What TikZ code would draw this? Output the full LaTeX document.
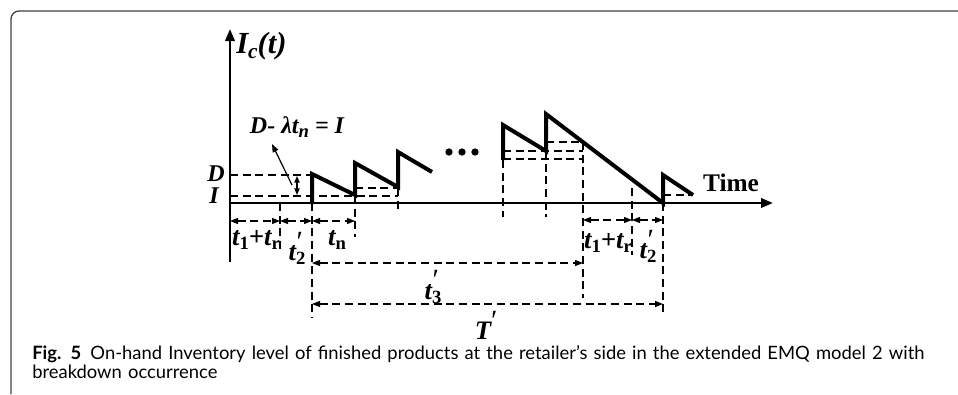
\documentclass[tikz,border=0pt]{standalone}
\usepackage{fontspec}
\setmainfont{Liberation Serif}
\newfontfamily\capfont{Lato}
\usetikzlibrary{arrows.meta}
\newcommand\sbs[1]{\raisebox{-0.32ex}{\fontsize{14}{14}\selectfont\upshape #1}}
\newcommand\sbi[1]{\raisebox{-0.32ex}{\fontsize{14}{14}\selectfont #1}}
\newcommand\prmark{\raisebox{0.75ex}{\fontsize{22}{22}\selectfont\mdseries\upshape\char"2032}}
\newcommand\prm[1]{\rlap{\kern0.5pt\prmark}\sbs{#1}}
\begin{document}
\begin{tikzpicture}[x=0.75pt,y=-0.75pt,
  axis/.style={line width=1.9pt,-{Triangle[length=9pt,width=7pt]}},
  saw/.style={line width=3pt,line join=miter,line cap=butt},
  guide/.style={line width=0.9pt,dash pattern=on 6pt off 3.5pt},
  dim/.style={guide,{Triangle[length=6pt,width=4.5pt]}-{Triangle[length=6pt,width=4.5pt]}},
  solidarrow/.style={line width=0.9pt,-{Triangle[length=6pt,width=4.5pt]}},
  lbl/.style={font=\fontsize{18}{20}\selectfont\bfseries\itshape, inner sep=0pt},
  tlbl/.style={font=\fontsize{20}{22}\selectfont\bfseries\itshape, inner sep=0pt},
  dot/.style={circle,fill=black,inner sep=0pt,minimum size=5.5pt}]
\useasboundingbox (0,0) rectangle (958,394);
% frame
\draw[line width=1pt,black!75,rounded corners=6pt] (11,394) -- (11,11) -- (958,11);
% coordinates
\coordinate (O) at (230,203);
\coordinate (ybot) at (230,262);
\coordinate (ytop) at (230,29);
\coordinate (xend) at (773,203);
% axes
\draw[axis] (ybot) -- (ytop);
\draw[axis] (O) -- (xend);
% guide lines (left)
\draw[guide] (230,175) -- (312,175);
\draw[guide] (230,196) -- (398,196);
\draw[guide] (355,188) -- (398,188);
\draw[guide] (280,203) -- (280,250);
\draw[guide] (312,203) -- (312,318);
\draw[guide] (355,196) -- (355,237);
\draw[guide] (398,188) -- (398,212);
% guide lines (right)
\draw[guide] (503,159) -- (583,159);
\draw[guide] (503,151) -- (583,151);
\draw[guide] (546,142) -- (583,142);
\draw[guide] (663,195) -- (693,195);
\draw[guide] (503,160) -- (503,217);
\draw[guide] (546,151) -- (546,217);
\draw[guide] (583,142) -- (583,298);
\draw[guide] (632,188) -- (632,255);
\draw[guide] (663,203) -- (663,313);
% sawtooth
\draw[saw] (312,204) -- (312,174) -- (355,195) -- (355,163) -- (398,187) -- (398,152) -- (432,172);
\draw[saw] (503,160) -- (503,125) -- (546,151) -- (546,114) -- (663,203) -- (663,175) -- (693,195);
% dots
\node[dot] (d1) at (449,152) {};
\node[dot] (d2) at (462,152) {};
\node[dot] (d3) at (475,152) {};
% dimension arrows
\draw[dim] (230,221) -- (280,221);
\draw[dim] (280,221) -- (312,221);
\draw[dim] (312,221) -- (355,221);
\draw[dim] (583,220) -- (632,220);
\draw[dim] (632,220) -- (663,220);
\draw[dim] (312,263) -- (583,263);
\draw[dim] (312,304) -- (663,304);
% small D-I arrow and pointer
\draw[line width=0.9pt,{Triangle[length=5pt,width=4pt]}-{Triangle[length=5pt,width=4pt]}] (297,176) -- (297,195);
\node[lbl] (eq) at (297,127) {D- λt\sbi{n} = I};
\coordinate (pstart) at (292,185);
\draw[solidarrow] (pstart) -- (272,144);
% labels
\node[inner sep=0pt,font=\fontsize{23}{26}\selectfont\bfseries\itshape,anchor=west] (Ic) at (236,46) {I\raisebox{-0.35ex}{\fontsize{16}{16}\selectfont c}(t)};
\node[lbl] (Dl) at (216,174) {D};
\node[lbl] (Il) at (214,196) {I};
\node[inner sep=0pt,font=\fontsize{19}{22}\selectfont\bfseries] (time) at (731,183) {Time};
\node[tlbl] (a1) at (256,240) {t\sbs{1}+t\sbs{r}};
\node[tlbl] (a2) at (297,248) {t\prm{2}};
\node[tlbl] (a3) at (337,240) {t\sbs{n}};
\node[tlbl] (a4) at (433,287) {t\prm{3}};
\node[tlbl] (a5) at (483,325) {T\rlap{\prmark}};
\node[tlbl] (b1) at (608,243) {t\sbs{1}+t\sbs{r}};
\node[tlbl] (b2) at (648,246) {t\prm{2}};
% caption
\node[anchor=base west,inner sep=0pt,align=left,text width=920pt,
  font=\capfont\fontsize{13.8}{14.5}\selectfont] (cap) at (32,359)
  {\textbf{Fig. 5}\enspace On-hand Inventory level of finished products at the retailer’s side in the extended EMQ model 2 with\\breakdown occurrence};
\end{tikzpicture}
\end{document}
